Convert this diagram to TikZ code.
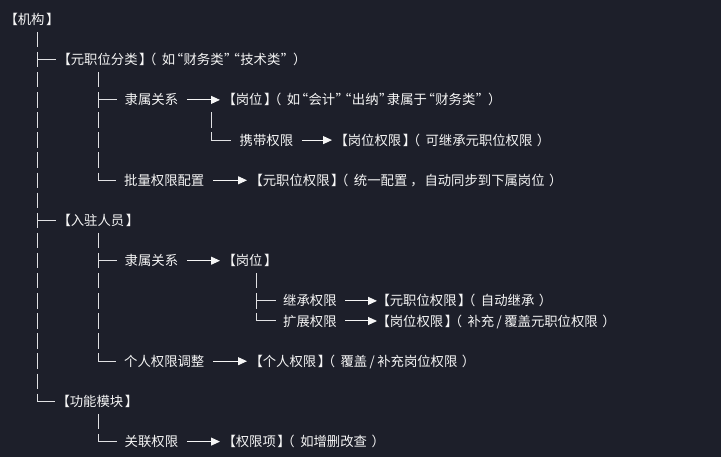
\documentclass[tikz,border=0pt]{standalone}
\usepackage{fontspec}
\setmainfont{Noto Sans CJK SC}[RawFeature=+halt]
\usetikzlibrary{arrows.meta}
\definecolor{bgcol}{RGB}{29,31,42}
\definecolor{inkcol}{RGB}{245,245,245}
\definecolor{barcol}{RGB}{225,225,228}
% punctuation with the spacing of the reference
\newcommand\xrb{\kern1.5pt】}
\newcommand\xlp{\kern4pt（\kern5.5pt}
\newcommand\xrp{\kern4.5pt）}
\newcommand\xoq{\kern1.2pt“\kern0.45pt}
\newcommand\xcq{\kern0.45pt”\kern1.2pt}
\newcommand\xcm{\kern3pt，\kern7.5pt}
\newcommand\xsl{\makebox[10pt][c]{/}}
\tikzset{
  txt/.style={anchor=west, inner sep=0pt, text=inkcol, text height=11.7pt, text depth=1.6pt,
    font=\fontsize{13.35}{16}\selectfont},
  vbar/.style={draw=barcol, line width=1.4pt, dash pattern=on 15.4pt off 4.7pt},
  hbar/.style={draw=barcol, line width=1pt},
  arr/.style={draw=inkcol, line width=1pt, -{Triangle[length=9pt,width=8pt]}}
}
\begin{document}
\begin{tikzpicture}[x=1pt,y=-1pt]
\fill[bgcol] (0,0) rectangle (721,457);
\useasboundingbox (0,0) rectangle (721,457);
% nodes
\node[txt] (r)   at (11,19.5)   {【机构\xrb};
\node[txt] (c1)  at (64,59.7)   {【元职位分类\xrb\xlp 如\xoq 财务类\xcq\xoq 技术类\xcq\xrp};
\node[txt] (c1a) at (124.5,99.9){隶属关系};
\node[txt] (c1b) at (229,99.9)  {【岗位\xrb\xlp 如\xoq 会计\xcq\xoq 出纳\xcq 隶属于\xoq 财务类\xcq\xrp};
\node[txt] (c1c) at (239.5,140.1){携带权限};
\node[txt] (c1d) at (341,140.1) {【岗位权限\xrb\xlp 可继承元职位权限\xrp};
\node[txt] (c1e) at (124,180.3) {批量权限配置};
\node[txt] (c1f) at (256,180.3) {【元职位权限\xrb\xlp 统一配置\xcm 自动同步到下属岗位\xrp};
\node[txt] (c2)  at (64,220.5)  {【入驻人员\xrb};
\node[txt] (c2a) at (124.5,260.7){隶属关系};
\node[txt] (c2b) at (229,260.7) {【岗位\xrb};
\node[txt] (c2c) at (283,300.9) {继承权限};
\node[txt] (c2d) at (383,300.9) {【元职位权限\xrb\xlp 自动继承\xrp};
\node[txt] (c2e) at (283,321.0) {扩展权限};
\node[txt] (c2f) at (383,321.0) {【岗位权限\xrb\xlp 补充\xsl 覆盖元职位权限\xrp};
\node[txt] (c2g) at (124,361.2) {个人权限调整};
\node[txt] (c2h) at (256,361.2) {【个人权限\xrb\xlp 覆盖\xsl 补充岗位权限\xrp};
\node[txt] (c3)  at (63,401.4)  {【功能模块\xrb};
\node[txt] (c3a) at (124.5,441.6){关联权限};
\node[txt] (c3b) at (229,441.6) {【权限项\xrb\xlp 如增删改查\xrp};
% vertical bar coordinates
\coordinate (T0) at (37.7,31.9);   \coordinate (T1) at (37.7,401.9);
\coordinate (A0) at (98.3,72.1);   \coordinate (A1) at (98.3,180.8);
\coordinate (B0) at (98.3,232.9);  \coordinate (B1) at (98.3,361.7);
\coordinate (C0) at (98.3,413.8);  \coordinate (C1) at (98.3,442.1);
\coordinate (D0) at (211.7,112.3); \coordinate (D1) at (211.7,140.6);
\coordinate (E0) at (256.5,273.1); \coordinate (E1) at (256.5,321.5);
\draw[vbar] (T0) -- (T1);
\draw[vbar] (A0) -- (A1);
\draw[vbar] (B0) -- (B1);
\draw[vbar] (C0) -- (C1);
\draw[vbar] (D0) -- (D1);
\draw[vbar] (E0) -- (E1);
% branches
\draw[hbar] (T0 |- c1.west) -- ([xshift=-8]c1.west);
\draw[hbar] (T0 |- c2.west) -- ([xshift=-8]c2.west);
\draw[hbar] (T0 |- c3.west) -- ([xshift=-8]c3.west);
\draw[hbar] (A0 |- c1a.west) -- ([xshift=-8]c1a.west);
\draw[hbar] (A0 |- c1e.west) -- ([xshift=-8]c1e.west);
\draw[hbar] (B0 |- c2a.west) -- ([xshift=-8]c2a.west);
\draw[hbar] (B0 |- c2g.west) -- ([xshift=-8]c2g.west);
\draw[hbar] (C0 |- c3a.west) -- ([xshift=-8]c3a.west);
\draw[hbar] (D0 |- c1c.west) -- ([xshift=-9]c1c.west);
\draw[hbar] (E0 |- c2c.west) -- ([xshift=-7]c2c.west);
\draw[hbar] (E0 |- c2e.west) -- ([xshift=-7]c2e.west);
% arrows
\draw[arr] ([xshift=8.5]c1a.east) -- ([xshift=-9]c1b.west);
\draw[arr] ([xshift=8.5]c1c.east) -- ([xshift=-9]c1d.west);
\draw[arr] ([xshift=8.5]c1e.east) -- ([xshift=-9]c1f.west);
\draw[arr] ([xshift=8.5]c2a.east) -- ([xshift=-9]c2b.west);
\draw[arr] ([xshift=8.5]c2c.east) -- ([xshift=-6]c2d.west);
\draw[arr] ([xshift=8.5]c2e.east) -- ([xshift=-6]c2f.west);
\draw[arr] ([xshift=8.5]c2g.east) -- ([xshift=-9]c2h.west);
\draw[arr] ([xshift=8.5]c3a.east) -- ([xshift=-9]c3b.west);
\end{tikzpicture}
\end{document}
